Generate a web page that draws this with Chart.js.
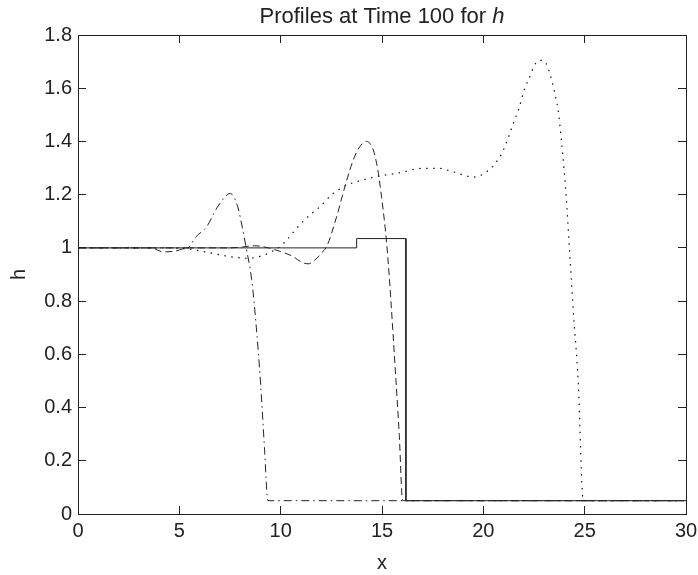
<!DOCTYPE html>
<html lang="en">
<head>
  <meta charset="UTF-8" />
  <title>Profiles at Time 100 for h</title>
  <script src="https://cdn.jsdelivr.net/npm/chart.js"></script>
  <style>
    body {
      margin: 0;
      background: #fff;
    }
    #wrap {
      width: 698px;
      height: 575px;
      position: relative;
    }
  </style>
</head>
<body>
  <div id="wrap"><canvas id="profiles"></canvas></div>

  <script>
    // tick positions and labels
    const xTicks = [0, 5, 10, 15, 20, 25, 30];
    const xTickLabels = ['0', '5', '10', '15', '20', '25', '30'];
    const yTicks = [0, 0.2, 0.4, 0.6, 0.8, 1, 1.2, 1.4, 1.6, 1.8];
    const yTickLabels = ['0', '0.2', '0.4', '0.6', '0.8', '1', '1.2', '1.4', '1.6', '1.8'];

    // solid profile (step)
    const solidX = [0, 13.75, 13.75, 16.18, 16.18, 30];
    const solidY = [1.0, 1.0, 1.035, 1.035, 0.05, 0.05];

    // dashed profile
    const dashX = [0, 3.6, 4.2, 4.8, 5.4, 7.5, 8.1, 8.7, 9.4, 10.0, 10.6, 11.0, 11.35, 11.7, 12.0, 12.27,
      12.76, 13.17, 13.58, 13.9, 14.24, 14.57, 14.8, 14.98, 15.15, 15.23, 15.36, 15.69, 15.85, 16.02, 30];
    const dashY = [1.0, 1.0, 0.985, 0.988, 1.0, 1.0, 1.003, 1.008, 1.0, 0.986, 0.968, 0.948, 0.94, 0.955, 0.98, 1.005,
      1.117, 1.23, 1.33, 1.38, 1.4, 1.368, 1.29, 1.19, 1.08, 1.017, 0.89, 0.5, 0.3, 0.05, 0.05];

    // dash-dot profile
    const dashDotX = [0, 5.4, 5.8, 6.35, 6.85, 7.3, 7.5, 7.7, 7.9, 8.1, 8.3, 8.57, 8.8, 9.0, 9.2, 9.37, 16.0, 30];
    const dashDotY = [1.0, 1.0, 1.04, 1.08, 1.15, 1.195, 1.205, 1.19, 1.15, 1.08, 1.0, 0.88, 0.7, 0.5, 0.25, 0.05, 0.05, 0.05];

    // dotted profile
    const dotX = [0, 4.5, 5.5, 6.5, 7.5, 8.4, 9.3, 9.97, 10.38, 10.79, 11.45, 11.94, 12.6, 13.26, 14.07, 14.73, 15.72,
      17.04, 17.78, 18.5, 19.18, 19.5, 19.83, 20.16, 20.49, 20.95, 21.23, 21.48, 21.73, 22.05, 22.33, 22.46, 22.74,
      22.9, 23.09, 23.24, 23.42, 23.58, 23.7, 23.85, 23.98, 24.11, 24.22, 24.45, 24.68, 24.93, 30];
    const dotY = [1.0, 1.0, 0.995, 0.982, 0.967, 0.961, 0.977, 1.005, 1.036, 1.074, 1.124, 1.155, 1.205, 1.236, 1.255, 1.268, 1.28,
      1.299, 1.299, 1.286, 1.27, 1.266, 1.271, 1.286, 1.308, 1.361, 1.414, 1.468, 1.518, 1.6, 1.65, 1.677, 1.704,
      1.705, 1.694, 1.666, 1.616, 1.562, 1.512, 1.405, 1.299, 1.168, 1.033, 0.75, 0.5, 0.05, 0.05];

    const pts = (xs, ys) => xs.map((x, i) => ({ x, y: ys[i] }));
    const ink = '#222';
    const font = 'Liberation Sans, Arial, sans-serif';

    // title with an italic h
    const titlePlugin = {
      id: 'mixedTitle',
      afterDraw(chart) {
        const { ctx, chartArea: a } = chart;
        const main = 'Profiles at Time 100 for ';
        ctx.save();
        ctx.fillStyle = ink;
        ctx.textBaseline = 'alphabetic';
        ctx.textAlign = 'left';
        ctx.font = '22px ' + font;
        const w1 = ctx.measureText(main).width;
        ctx.font = 'italic 22px ' + font;
        const w2 = ctx.measureText('h').width;
        const x0 = (a.left + a.right) / 2 - (w1 + w2) / 2;
        ctx.font = '22px ' + font;
        ctx.fillText(main, x0, 23);
        ctx.font = 'italic 22px ' + font;
        ctx.fillText('h', x0 + w1, 23);
        ctx.restore();
      }
    };

    // inward ticks, box border, no grid lines
    const boxGrid = { drawOnChartArea: false, drawTicks: true, tickLength: -8, color: ink, lineWidth: 1 };
    const boxBorder = { display: true, color: ink, width: 1 };

    new Chart(document.getElementById('profiles'), {
      type: 'line',
      data: {
        datasets: [
          { data: pts(solidX, solidY), borderColor: ink, borderWidth: 1, tension: 0 },
          { data: pts(dashX, dashY), borderColor: ink, borderWidth: 1, borderDash: [7, 4], cubicInterpolationMode: 'monotone' },
          { data: pts(dashDotX, dashDotY), borderColor: ink, borderWidth: 1, borderDash: [8, 4, 1.5, 4], cubicInterpolationMode: 'monotone' },
          { data: pts(dotX, dotY), borderColor: '#111', borderWidth: 1.2, borderDash: [1.5, 5.5], cubicInterpolationMode: 'monotone' }
        ]
      },
      options: {
        responsive: true,
        maintainAspectRatio: false,
        animation: false,
        devicePixelRatio: 1,
        elements: { point: { radius: 0 } },
        layout: { padding: { top: 35, right: 12, bottom: 0, left: 0 } },
        plugins: {
          legend: { display: false },
          tooltip: { enabled: false }
        },
        scales: {
          x: {
            type: 'linear',
            position: 'bottom',
            min: 0,
            max: 30,
            afterBuildTicks: s => { s.ticks = xTicks.map(v => ({ value: v })); },
            afterFit: s => { s.height = 61; s.paddingLeft = 0; s.paddingRight = 0; },
            grid: boxGrid,
            border: boxBorder,
            ticks: {
              padding: 13,
              maxRotation: 0,
              color: ink,
              font: { family: font, size: 20 },
              callback: v => xTickLabels[xTicks.indexOf(v)]
            },
            title: {
              display: true,
              text: 'x',
              color: ink,
              font: { family: font, size: 20 },
              padding: { top: 0, bottom: 0 }
            }
          },
          xTop: {
            type: 'linear',
            position: 'top',
            min: 0,
            max: 30,
            afterBuildTicks: s => { s.ticks = xTicks.map(v => ({ value: v })); },
            afterFit: s => { s.height = 0; s.paddingLeft = 0; s.paddingRight = 0; },
            grid: boxGrid,
            border: boxBorder,
            ticks: { display: false }
          },
          y: {
            type: 'linear',
            position: 'left',
            min: 0,
            max: 1.8,
            afterBuildTicks: s => { s.ticks = yTicks.map(v => ({ value: v })); },
            afterFit: s => { s.width = 78; },
            grid: boxGrid,
            border: boxBorder,
            ticks: {
              padding: 14,
              color: ink,
              font: { family: font, size: 20 },
              callback: v => yTickLabels[yTicks.indexOf(v)]
            },
            title: {
              display: true,
              text: 'h',
              color: ink,
              font: { family: font, size: 20 },
              padding: { top: 7, bottom: 0 }
            }
          },
          yRight: {
            type: 'linear',
            position: 'right',
            min: 0,
            max: 1.8,
            afterBuildTicks: s => { s.ticks = yTicks.map(v => ({ value: v })); },
            afterFit: s => { s.width = 0; },
            grid: boxGrid,
            border: boxBorder,
            ticks: { display: false }
          }
        }
      },
      plugins: [titlePlugin]
    });
  </script>
</body>
</html>
